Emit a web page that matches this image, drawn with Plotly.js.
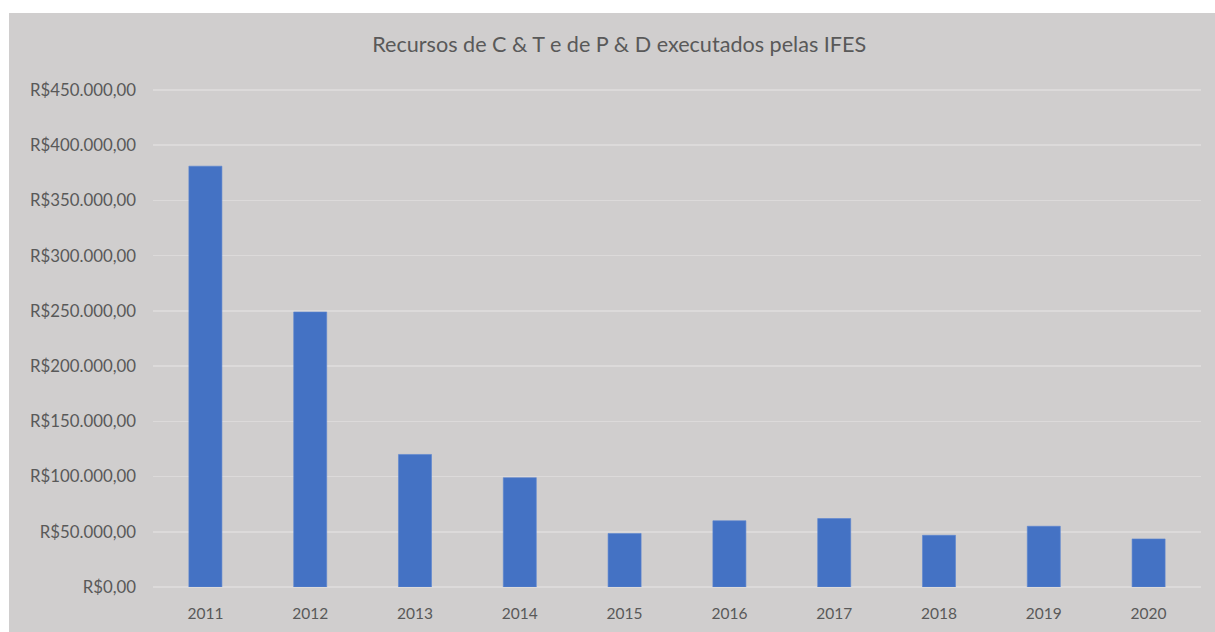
<!DOCTYPE html>
<html>
<head>
<meta charset="utf-8">
<script src="https://cdn.plot.ly/plotly-3.0.1.min.js"></script>
<style>
html,body{margin:0;padding:0;background:#ffffff;}
#chart{position:absolute;left:9px;top:13px;width:1206px;height:619px;}
</style>
</head>
<body>
<div id="chart"></div>
<script>
const years = ["2011","2012","2013","2014","2015","2016","2017","2018","2019","2020"];
const valores = [381000, 249000, 120000, 99000, 48500, 60000, 62000, 46800, 55000, 43500];
const tickValues = [0, 50000, 100000, 150000, 200000, 250000, 300000, 350000, 400000, 450000];
const tickLabels = ["R$0,00","R$50.000,00","R$100.000,00","R$150.000,00","R$200.000,00","R$250.000,00","R$300.000,00","R$350.000,00","R$400.000,00","R$450.000,00"];
const titulo = "Recursos de C & T e de P & D executados pelas IFES";

const font = "Lato, 'Open Sans', sans-serif";
Plotly.newPlot("chart", [{
  type: "bar",
  x: years,
  y: valores,
  marker: {color: "#4472c4", line: {color: "#5a85d0", width: 0.6}},
  hoverinfo: "none"
}], {
  width: 1206, height: 619,
  paper_bgcolor: "#d0cece",
  plot_bgcolor: "#d0cece",
  margin: {l: 144, r: 14, t: 72, b: 45, pad: 0},
  bargap: 0.685,
  showlegend: false,
  title: {text: titulo, x: 0.506, xanchor: "center", y: 0.949, yanchor: "middle",
          font: {family: font, size: 21.6, color: "#595959"}},
  xaxis: {type: "category", showgrid: false, zeroline: false, showline: false, ticks: "",
          tickfont: {family: font, size: 15.5, color: "#595959"}, ticklabelstandoff: 15,
          fixedrange: true},
  yaxis: {range: [0, 454500], tickvals: tickValues, ticktext: tickLabels,
          showgrid: true, gridcolor: "#dcdada", gridwidth: 1.5, zeroline: true, zerolinecolor: "#dcdada", zerolinewidth: 1.5,
          showline: false, ticks: "", ticklabelstandoff: 16,
          tickfont: {family: font, size: 16.8, color: "#595959"}, fixedrange: true}
}, {staticPlot: true, displayModeBar: false});
</script>
</body>
</html>
